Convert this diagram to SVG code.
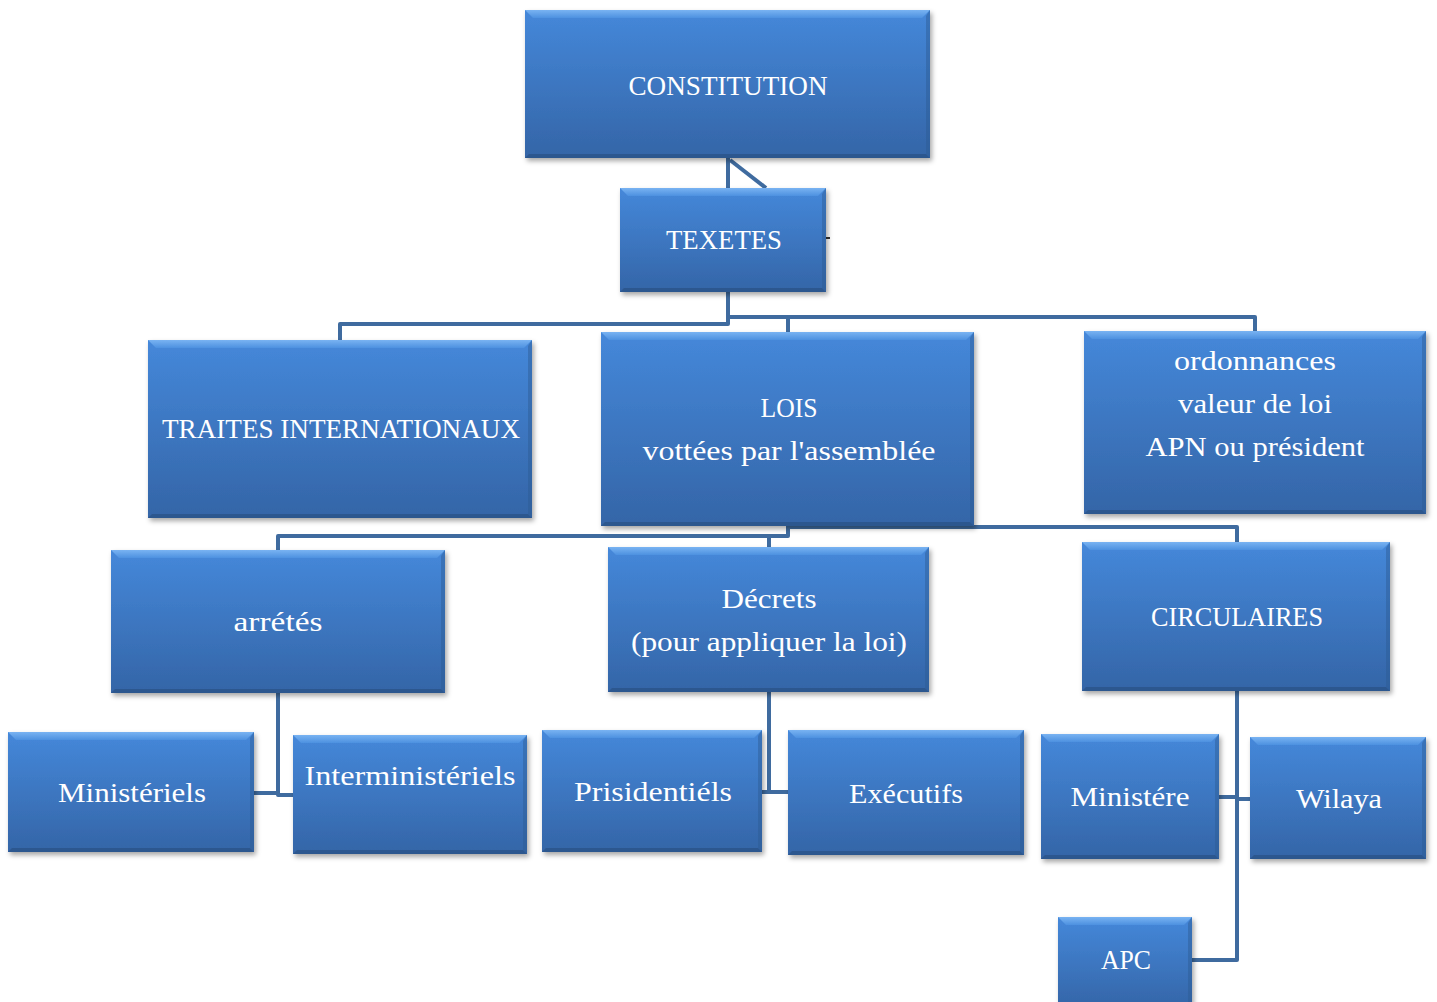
<svg xmlns="http://www.w3.org/2000/svg" width="1437" height="1002" viewBox="0 0 1437 1002">
<defs>
<linearGradient id="gBox" x1="0" y1="0" x2="0" y2="1">
<stop offset="0" stop-color="#4588da"/>
<stop offset="1" stop-color="#3465a7"/>
</linearGradient>
<linearGradient id="gTop" x1="0" y1="0" x2="0" y2="1">
<stop offset="0" stop-color="#79b3f2"/>
<stop offset="1" stop-color="#4d91e0"/>
</linearGradient>
<filter id="sh" x="-5%" y="-5%" width="115%" height="120%">
<feDropShadow dx="2" dy="3" stdDeviation="2.5" flood-color="#000" flood-opacity="0.35"/>
</filter>
<style>
.box{fill:url(#gBox);filter:url(#sh)}
.bt{fill:url(#gTop)}
.bb{fill:#2b5488;opacity:0.8}
.br{fill:#2d5a93;opacity:0.45}
.t{font-family:"Liberation Serif","DejaVu Serif",serif;font-size:27px;fill:#ffffff;text-anchor:middle}
.c{fill:none;stroke:#3f6b9f;stroke-width:4;stroke-linejoin:round}
</style>
</defs>
<rect width="1437" height="1002" fill="#ffffff"/>
<g id="connectors">
<path class="c" d="M728,158 V188"/>
<path class="c" d="M730,160 L766,188"/>
<path class="c" d="M826,238 H830" style="stroke-width:2;stroke:#333"/>
<path class="c" d="M728,292 V324 H340 V340"/>
<path class="c" d="M728,317 H1255 V331"/>
<path class="c" d="M788,317 V332"/>
<path class="c" d="M788,520 V536 H278 V550"/>
<path class="c" d="M769,536 V547"/>
<path class="c" d="M788,527 H1237 V542"/>
<path class="c" d="M278,693 V793"/>
<path class="c" d="M254,793 H278 V795 H293"/>
<path class="c" d="M769,692 V792"/>
<path class="c" d="M762,792 H788"/>
<path class="c" d="M1237,691 V960 H1192"/>
<path class="c" d="M1219,797 H1237 V799 H1250"/>
</g>
<g id="n-constitution" transform="translate(525,10)">
<rect class="box" width="405" height="148"/>
<polygon class="bt" points="0,0 405,0 397,8 8,8"/>
<polygon class="bb" points="0,148 405,148 401,144 4,144"/>
<polygon class="br" points="405,0 405,148 401,144 401,6"/>
<text class="t" x="203" y="85" textLength="199" lengthAdjust="spacingAndGlyphs">CONSTITUTION</text>
</g>
<g id="n-texetes" transform="translate(620,188)">
<rect class="box" width="206" height="104"/>
<polygon class="bt" points="0,0 206,0 198,8 8,8"/>
<polygon class="bb" points="0,104 206,104 202,100 4,100"/>
<polygon class="br" points="206,0 206,104 202,100 202,6"/>
<text class="t" x="104" y="61" textLength="116" lengthAdjust="spacingAndGlyphs">TEXETES</text>
</g>
<g id="n-traites" transform="translate(148,340)">
<rect class="box" width="384" height="178"/>
<polygon class="bt" points="0,0 384,0 376,8 8,8"/>
<polygon class="bb" points="0,178 384,178 380,174 4,174"/>
<polygon class="br" points="384,0 384,178 380,174 380,6"/>
<text class="t" x="193" y="98" textLength="358" lengthAdjust="spacingAndGlyphs">TRAITES INTERNATIONAUX</text>
</g>
<g id="n-lois" transform="translate(601,332)">
<rect class="box" width="373" height="194"/>
<polygon class="bt" points="0,0 373,0 365,8 8,8"/>
<polygon class="bb" points="0,194 373,194 369,190 4,190"/>
<polygon class="br" points="373,0 373,194 369,190 369,6"/>
<text class="t" x="188" y="85" textLength="57" lengthAdjust="spacingAndGlyphs">LOIS</text>
<text class="t" x="188" y="128" textLength="293" lengthAdjust="spacingAndGlyphs">vottées par l'assemblée</text>
</g>
<g id="n-ordonnances" transform="translate(1084,331)">
<rect class="box" width="342" height="183"/>
<polygon class="bt" points="0,0 342,0 334,8 8,8"/>
<polygon class="bb" points="0,183 342,183 338,179 4,179"/>
<polygon class="br" points="342,0 342,183 338,179 338,6"/>
<text class="t" x="171" y="39" textLength="162" lengthAdjust="spacingAndGlyphs">ordonnances</text>
<text class="t" x="171" y="82" textLength="154" lengthAdjust="spacingAndGlyphs">valeur de loi</text>
<text class="t" x="171" y="125" textLength="219" lengthAdjust="spacingAndGlyphs">APN ou président</text>
</g>
<g id="n-arretes" transform="translate(111,550)">
<rect class="box" width="334" height="143"/>
<polygon class="bt" points="0,0 334,0 326,8 8,8"/>
<polygon class="bb" points="0,143 334,143 330,139 4,139"/>
<polygon class="br" points="334,0 334,143 330,139 330,6"/>
<text class="t" x="167" y="81" textLength="89" lengthAdjust="spacingAndGlyphs">arrétés</text>
</g>
<g id="n-decrets" transform="translate(608,547)">
<rect class="box" width="321" height="145"/>
<polygon class="bt" points="0,0 321,0 313,8 8,8"/>
<polygon class="bb" points="0,145 321,145 317,141 4,141"/>
<polygon class="br" points="321,0 321,145 317,141 317,6"/>
<text class="t" x="161" y="61" textLength="95" lengthAdjust="spacingAndGlyphs">Décrets</text>
<text class="t" x="161" y="104" textLength="276" lengthAdjust="spacingAndGlyphs">(pour appliquer la loi)</text>
</g>
<g id="n-circulaires" transform="translate(1082,542)">
<rect class="box" width="308" height="149"/>
<polygon class="bt" points="0,0 308,0 300,8 8,8"/>
<polygon class="bb" points="0,149 308,149 304,145 4,145"/>
<polygon class="br" points="308,0 308,149 304,145 304,6"/>
<text class="t" x="155" y="84" textLength="172" lengthAdjust="spacingAndGlyphs">CIRCULAIRES</text>
</g>
<g id="n-ministeriels" transform="translate(8,732)">
<rect class="box" width="246" height="120"/>
<polygon class="bt" points="0,0 246,0 238,8 8,8"/>
<polygon class="bb" points="0,120 246,120 242,116 4,116"/>
<polygon class="br" points="246,0 246,120 242,116 242,6"/>
<text class="t" x="124" y="70" textLength="148" lengthAdjust="spacingAndGlyphs">Ministériels</text>
</g>
<g id="n-interministeriels" transform="translate(293,735)">
<rect class="box" width="234" height="119"/>
<polygon class="bt" points="0,0 234,0 226,8 8,8"/>
<polygon class="bb" points="0,119 234,119 230,115 4,115"/>
<polygon class="br" points="234,0 234,119 230,115 230,6"/>
<text class="t" x="117" y="50" textLength="211" lengthAdjust="spacingAndGlyphs">Interministériels</text>
</g>
<g id="n-prisidentiels" transform="translate(542,730)">
<rect class="box" width="220" height="122"/>
<polygon class="bt" points="0,0 220,0 212,8 8,8"/>
<polygon class="bb" points="0,122 220,122 216,118 4,118"/>
<polygon class="br" points="220,0 220,122 216,118 216,6"/>
<text class="t" x="111" y="71" textLength="158" lengthAdjust="spacingAndGlyphs">Prisidentiéls</text>
</g>
<g id="n-executifs" transform="translate(788,730)">
<rect class="box" width="236" height="125"/>
<polygon class="bt" points="0,0 236,0 228,8 8,8"/>
<polygon class="bb" points="0,125 236,125 232,121 4,121"/>
<polygon class="br" points="236,0 236,125 232,121 232,6"/>
<text class="t" x="118" y="73" textLength="114" lengthAdjust="spacingAndGlyphs">Exécutifs</text>
</g>
<g id="n-ministere" transform="translate(1041,734)">
<rect class="box" width="178" height="125"/>
<polygon class="bt" points="0,0 178,0 170,8 8,8"/>
<polygon class="bb" points="0,125 178,125 174,121 4,121"/>
<polygon class="br" points="178,0 178,125 174,121 174,6"/>
<text class="t" x="89" y="72" textLength="119" lengthAdjust="spacingAndGlyphs">Ministére</text>
</g>
<g id="n-wilaya" transform="translate(1250,737)">
<rect class="box" width="176" height="122"/>
<polygon class="bt" points="0,0 176,0 168,8 8,8"/>
<polygon class="bb" points="0,122 176,122 172,118 4,118"/>
<polygon class="br" points="176,0 176,122 172,118 172,6"/>
<text class="t" x="89" y="71" textLength="86" lengthAdjust="spacingAndGlyphs">Wilaya</text>
</g>
<g id="n-apc" transform="translate(1058,917)">
<rect class="box" width="134" height="92"/>
<polygon class="bt" points="0,0 134,0 126,8 8,8"/>
<polygon class="br" points="134,0 134,92 130,88 130,6"/>
<text class="t" x="68" y="52" textLength="50" lengthAdjust="spacingAndGlyphs">APC</text>
</g>
</svg>
